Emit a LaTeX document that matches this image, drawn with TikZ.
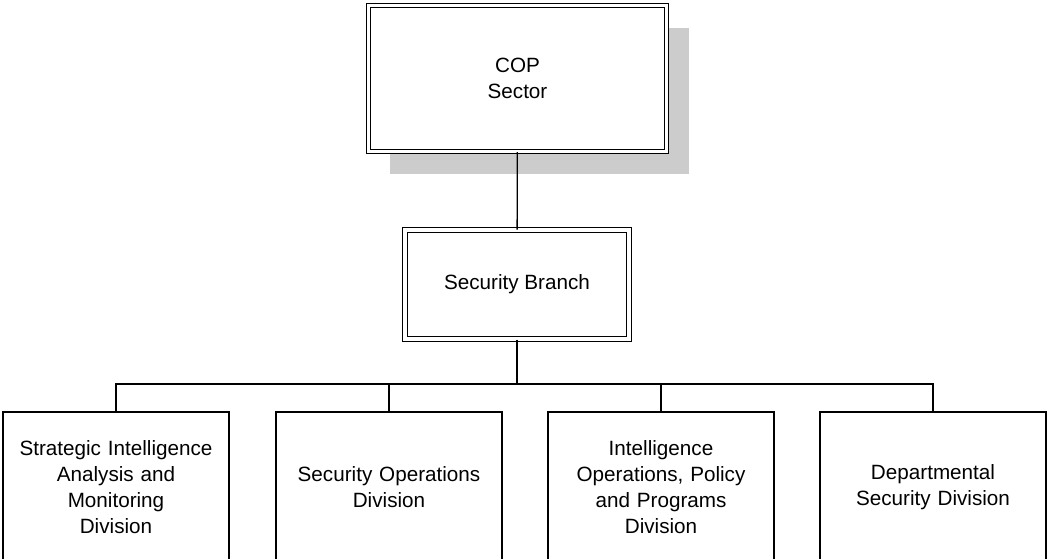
\documentclass[tikz,border=0pt]{standalone}
\usepackage{fontspec}
\setmainfont{Liberation Sans}
\usetikzlibrary{shadows}

\tikzstyle{topUnit}=[shape=rectangle,draw=black,fill=white,line width=0.75pt,double,double distance=2.4pt,align=center,
  minimum width=224pt,minimum height=109.5pt,drop shadow={shadow xshift=16.5pt,shadow yshift=-16.5pt,fill=black!20,opacity=1}]
\tikzstyle{branchUnit}=[shape=rectangle,draw=black,fill=white,line width=0.75pt,double,double distance=2.4pt,align=center,
  minimum width=168pt,minimum height=81.75pt]
\tikzstyle{divUnit}=[shape=rectangle,draw=black,fill=white,line width=1pt,align=center,
  minimum width=169.5pt,minimum height=112.5pt,text width=162pt]
\tikzstyle{link}=[draw=black,line width=1pt]

\begin{document}
\begin{tikzpicture}[x=0.75pt,y=-0.75pt,font=\fontsize{15.5}{19.3}\selectfont]
        \useasboundingbox (0,0) rectangle (1048,558);
        \clip (0,0) rectangle (1048,558);

        % sector and branch
        \node[topUnit] (cop) at (517.5,78.5) {COP\\Sector};
        \node[branchUnit] (branch) at (517,284.5) {Security Branch};

        \coordinate (bar) at (517,384);

        % divisions
        \node[divUnit] (d1) at (116,487) {Strategic Intelligence\\Analysis and\\Monitoring\\Division};
        \node[divUnit] (d2) at (389,487) {Security Operations\\Division};
        \node[divUnit] (d3) at (661,487) {Intelligence\\Operations, Policy\\and Programs\\Division};
        \node[divUnit] (d4) at (933,487) {Departmental\\Security Division};

        \draw [link] (cop) -- (branch);
        \draw [link,line width=1.5pt] (branch) -- (bar);
        \draw [link] (bar) -| (d1);
        \draw [link] (bar) -| (d2);
        \draw [link] (bar) -| (d3);
        \draw [link] (bar) -| (d4);
\end{tikzpicture}
\end{document}
